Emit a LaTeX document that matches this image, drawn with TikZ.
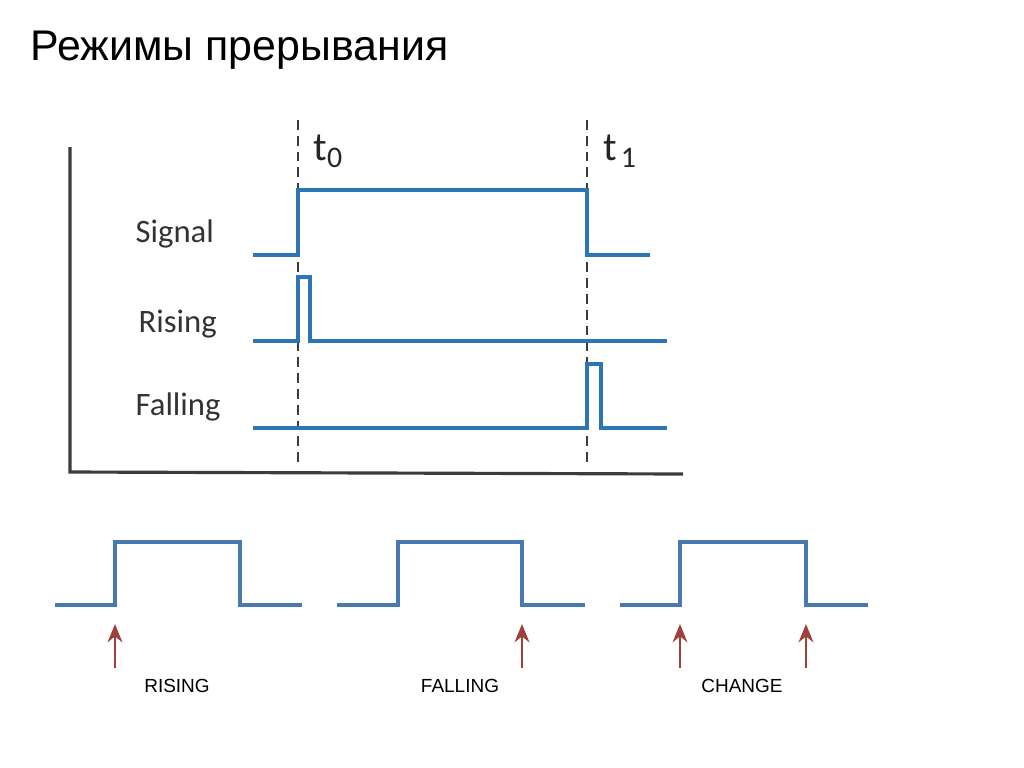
\documentclass[tikz,border=0pt]{standalone}
\usepackage{fontspec}
\setmainfont{Liberation Sans}
\newfontfamily\labelfont{Carlito}
\usetikzlibrary{arrows.meta,positioning}
\usepackage{xcolor}

\definecolor{waveblue}{HTML}{2E75B6}
\definecolor{softblue}{HTML}{4A78B0}
\definecolor{arrowred}{HTML}{A0403A}
\definecolor{axisgray}{HTML}{3C3C3C}

\newcommand{\timesub}[1]{\raisebox{-2.2pt}{\fontsize{8.5}{9}\selectfont #1}}

\begin{document}
\begin{tikzpicture}[
    wave/.style={draw=waveblue, line width=1pt},
    pulse/.style={draw=softblue, line width=1pt},
    axis/.style={draw=axisgray, line width=0.9pt},
    marker/.style={draw=axisgray, dashed, dash pattern=on 2.8pt off 1.7pt, line width=0.55pt},
    rowlabel/.style={anchor=base west, inner sep=0pt, font=\labelfont\fontsize{9.3}{11}\selectfont, text=black!80},
    timelabel/.style={anchor=base west, inner sep=0pt, font=\labelfont\fontsize{11.5}{14}\selectfont, text=black!85},
    modelabel/.style={anchor=base, inner sep=0pt, font=\fontsize{5.4}{6}\selectfont},
    trigger/.style={-{Stealth[length=5.2pt,width=4.2pt]}, line width=0.8pt, color=arrowred}
]
\useasboundingbox (0,0) rectangle (10.24,-7.67);

% Title
\node[anchor=base west, inner sep=0pt, font=\fontsize{12.2}{15}\selectfont] (title) at (0.30,-0.60) {Режимы прерывания};

% Axes
\draw[axis] (0.70,-1.47) -- (0.70,-4.72) -- (6.83,-4.74);

% Time markers
\draw[marker] (2.98,-1.20) -- (2.98,-4.62);
\draw[marker] (5.87,-1.20) -- (5.87,-4.62);
\node[timelabel] (t0) at (3.13,-1.60) {t\timesub{0}};
\node[timelabel] (t1) at (6.03,-1.60) {t\kern1pt\timesub{1}};

% Row labels
\node[rowlabel] (signal) at (1.35,-2.42) {Signal};
\node[rowlabel] (rising) at (1.38,-3.32) {Rising};
\node[rowlabel] (falling) at (1.35,-4.15) {Falling};

% Waveforms in the chart
\draw[wave] (2.53,-2.55) -- (2.98,-2.55) -- (2.98,-1.90) -- (5.87,-1.90) -- (5.87,-2.55) -- (6.50,-2.55);
\draw[wave] (2.53,-3.41) -- (2.98,-3.41) -- (2.98,-2.77) -- (3.10,-2.77) -- (3.10,-3.41) -- (6.67,-3.41);
\draw[wave] (2.53,-4.28) -- (5.87,-4.28) -- (5.87,-3.64) -- (6.01,-3.64) -- (6.01,-4.28) -- (6.67,-4.28);

% Pulses - bottom row
\draw[pulse] (0.55,-6.05) -- (1.15,-6.05) -- (1.15,-5.42) -- (2.40,-5.42) -- (2.40,-6.05) -- (3.02,-6.05);
\draw[pulse] (3.37,-6.05) -- (3.98,-6.05) -- (3.98,-5.42) -- (5.22,-5.42) -- (5.22,-6.05) -- (5.85,-6.05);
\draw[pulse] (6.20,-6.05) -- (6.80,-6.05) -- (6.80,-5.42) -- (8.06,-5.42) -- (8.06,-6.05) -- (8.68,-6.05);

% Trigger points
\coordinate (rise1) at (1.15,-6.24);
\coordinate (rise1foot) at (1.15,-6.68);
\coordinate (fall2) at (5.22,-6.24);
\coordinate (fall2foot) at (5.22,-6.68);
\coordinate (rise3) at (6.80,-6.24);
\coordinate (rise3foot) at (6.80,-6.68);
\coordinate (fall3) at (8.06,-6.24);
\coordinate (fall3foot) at (8.06,-6.68);

\draw[trigger] (rise1foot) -- (rise1);
\draw[trigger] (fall2foot) -- (fall2);
\draw[trigger] (rise3foot) -- (rise3);
\draw[trigger] (fall3foot) -- (fall3);

% Mode labels
\node[modelabel] (modeRising) at (1.77,-6.92) {RISING};
\node[modelabel] (modeFalling) at (4.60,-6.92) {FALLING};
\node[modelabel] (modeChange) at (7.42,-6.92) {CHANGE};

\end{tikzpicture}
\end{document}
